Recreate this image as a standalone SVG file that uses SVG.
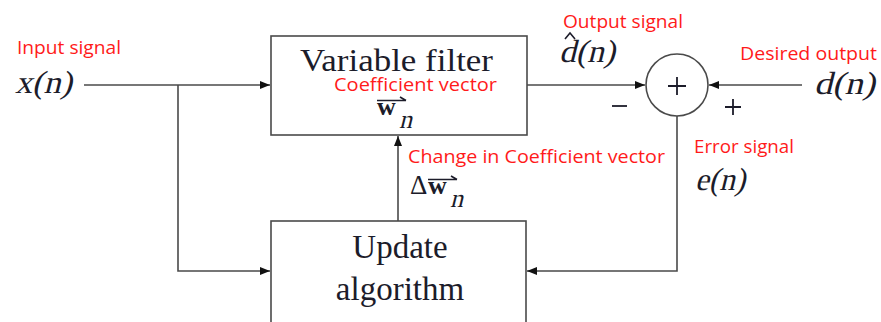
<svg xmlns="http://www.w3.org/2000/svg" width="881" height="322" viewBox="0 0 881 322">
  <style>
    .box { fill: #ffffff; stroke: #4a4a4a; stroke-width: 1.6; }
    .wire { fill: none; stroke: #4a4a4a; stroke-width: 1.6; }
    .math { font-family: "Liberation Serif", "Times New Roman", serif; fill: #1c1c2a; }
    .bd { font-weight: bold; }
    .note { font-family: "Open Sans", "Liberation Sans", sans-serif; font-size: 18.5px; fill: #ff1a1a; }
    .acc { fill: none; stroke: #1c1c2a; stroke-width: 1.6; }
  </style>
  <defs>
    <marker id="arrow" viewBox="0 0 10 10" refX="10" refY="5" markerWidth="10" markerHeight="10" markerUnits="userSpaceOnUse" orient="auto">
      <path d="M0,1 L10,5 L0,9 Z" fill="#111"/>
    </marker>
  </defs>

  <rect width="881" height="322" fill="#ffffff"/>

  <!-- connectors -->
  <g id="connectors">
    <path class="wire" d="M84,85 H270" marker-end="url(#arrow)"/>
    <path class="wire" d="M178,85 V271 H270" marker-end="url(#arrow)"/>
    <path class="wire" d="M527,85 H645" marker-end="url(#arrow)"/>
    <path class="wire" d="M802,85 H709" marker-end="url(#arrow)"/>
    <path class="wire" d="M677,116 V271 H527" marker-end="url(#arrow)"/>
    <path class="wire" d="M398,221 V136" marker-end="url(#arrow)"/>
  </g>

  <!-- input; math symbols are slanted upright serif -->
  <g id="input">
    <text class="note" x="17" y="54" textLength="104" lengthAdjust="spacingAndGlyphs">Input signal</text>
    <text class="math" transform="translate(15,93) skewX(-14)" font-size="32" textLength="57" lengthAdjust="spacingAndGlyphs">x(n)</text>
  </g>

  <!-- variable filter -->
  <g id="filter">
    <rect class="box" x="271" y="36" width="256" height="99"/>
    <text class="math" x="300" y="71" font-size="31" textLength="193" lengthAdjust="spacingAndGlyphs">Variable filter</text>
    <text class="note" x="334" y="91" textLength="163" lengthAdjust="spacingAndGlyphs">Coefficient vector</text>
    <text class="math bd" x="377" y="115" font-size="26">w</text>
    <text class="math" transform="translate(399,128) skewX(-14)" font-size="26">n</text>
    <path class="acc" d="M377,100.5 H406 M400,97 L406,100.5"/>
  </g>

  <!-- summing junction -->
  <g id="sum">
    <circle cx="677" cy="85" r="31" fill="#ffffff" stroke="#4a4a4a" stroke-width="1.6"/>
    <path d="M668,86 H686 M677,77 V95" stroke="#1c1c2a" stroke-width="1.8"/>
    <path d="M612,106 H627" stroke="#1c1c2a" stroke-width="1.8"/>
    <path d="M725,107 H741 M733,99 V115" stroke="#1c1c2a" stroke-width="1.8"/>
  </g>

  <!-- output estimate -->
  <g id="output">
    <text class="note" x="563" y="28" textLength="120" lengthAdjust="spacingAndGlyphs">Output signal</text>
    <text class="math" transform="translate(559,62) skewX(-14)" font-size="32" textLength="56" lengthAdjust="spacingAndGlyphs">d(n)</text>
    <path class="acc" d="M565,39 L570,33 L575,39" stroke-width="1.4"/>
  </g>

  <!-- desired output -->
  <g id="desired">
    <text class="note" x="740" y="60" textLength="137" lengthAdjust="spacingAndGlyphs">Desired output</text>
    <text class="math" transform="translate(814,94) skewX(-14)" font-size="32" textLength="61" lengthAdjust="spacingAndGlyphs">d(n)</text>
  </g>

  <!-- error -->
  <g id="error">
    <text class="note" x="694" y="153" textLength="100" lengthAdjust="spacingAndGlyphs">Error signal</text>
    <text class="math" transform="translate(695,190) skewX(-14)" font-size="32" textLength="50" lengthAdjust="spacingAndGlyphs">e(n)</text>
  </g>

  <!-- coefficient change -->
  <g id="delta">
    <text class="note" x="408" y="163" textLength="257" lengthAdjust="spacingAndGlyphs">Change in Coefficient vector</text>
    <text class="math" x="410" y="194" font-size="27">Δ</text>
    <text class="math bd" x="428" y="194" font-size="26">w</text>
    <text class="math" transform="translate(450,207) skewX(-14)" font-size="26">n</text>
    <path class="acc" d="M428,179.5 H457 M451,176 L457,179.5"/>
  </g>

  <!-- update algorithm -->
  <g id="update">
    <rect class="box" x="271" y="221" width="255" height="110"/>
    <text class="math" x="400" y="258" font-size="33" text-anchor="middle">Update</text>
    <text class="math" x="400" y="300" font-size="33" text-anchor="middle">algorithm</text>
  </g>
</svg>
